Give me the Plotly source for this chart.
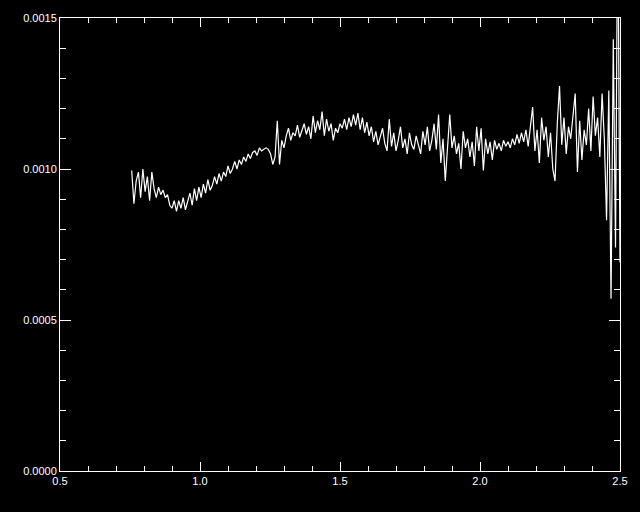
import plotly.graph_objects as go

wavelength = [
    0.756, 0.764, 0.772, 0.780, 0.788, 0.796, 0.804, 0.812, 0.820, 0.828,
    0.836, 0.844, 0.852, 0.860, 0.868, 0.876, 0.884, 0.892, 0.900, 0.908,
    0.916, 0.924, 0.932, 0.940, 0.948, 0.956, 0.964, 0.972, 0.980, 0.988,
    0.996, 1.004, 1.012, 1.020, 1.028, 1.036, 1.044, 1.052, 1.060, 1.068,
    1.076, 1.084, 1.092, 1.100, 1.108, 1.116, 1.124, 1.132, 1.140, 1.148,
    1.156, 1.164, 1.172, 1.180, 1.188, 1.196, 1.204, 1.212, 1.220, 1.228,
    1.236, 1.244, 1.252, 1.260, 1.268, 1.276, 1.284, 1.292, 1.300, 1.308,
    1.316, 1.324, 1.332, 1.340, 1.348, 1.356, 1.364, 1.372, 1.380, 1.388,
    1.396, 1.404, 1.412, 1.420, 1.428, 1.436, 1.444, 1.452, 1.460, 1.468,
    1.476, 1.484, 1.492, 1.500, 1.508, 1.516, 1.524, 1.532, 1.540, 1.548,
    1.556, 1.564, 1.572, 1.580, 1.588, 1.596, 1.604, 1.612, 1.620, 1.628,
    1.636, 1.644, 1.652, 1.660, 1.668, 1.676, 1.684, 1.692, 1.700, 1.708,
    1.716, 1.724, 1.732, 1.740, 1.748, 1.756, 1.764, 1.772, 1.780, 1.788,
    1.796, 1.804, 1.812, 1.820, 1.828, 1.836, 1.844, 1.852, 1.860, 1.868,
    1.876, 1.884, 1.892, 1.900, 1.908, 1.916, 1.924, 1.932, 1.940, 1.948,
    1.956, 1.964, 1.972, 1.980, 1.988, 1.996, 2.004, 2.012, 2.020, 2.028,
    2.036, 2.044, 2.052, 2.060, 2.068, 2.076, 2.084, 2.092, 2.100, 2.108,
    2.116, 2.124, 2.132, 2.140, 2.148, 2.156, 2.164, 2.172, 2.180, 2.188,
    2.196, 2.204, 2.212, 2.220, 2.228, 2.236, 2.244, 2.252, 2.260, 2.268,
    2.276, 2.284, 2.292, 2.300, 2.308, 2.316, 2.324, 2.332, 2.340, 2.348,
    2.356, 2.364, 2.372, 2.380, 2.388, 2.396, 2.404, 2.412, 2.420, 2.428,
    2.436, 2.444, 2.452, 2.460, 2.468, 2.476, 2.484, 2.492, 2.500,
]

flux = [
    0.000995, 0.000885, 0.000960, 0.000990, 0.000905, 0.001000, 0.000925, 0.000975, 0.000895, 0.000990,
    0.000935, 0.000905, 0.000940, 0.000915, 0.000930, 0.000905, 0.000915, 0.000880, 0.000870, 0.000895,
    0.000860, 0.000895, 0.000870, 0.000905, 0.000865, 0.000890, 0.000920, 0.000880, 0.000935, 0.000895,
    0.000940, 0.000905, 0.000950, 0.000920, 0.000965, 0.000930, 0.000945, 0.000975, 0.000950, 0.000985,
    0.000960, 0.000990, 0.000975, 0.001010, 0.000985, 0.001000, 0.001025, 0.001000, 0.001030, 0.001015,
    0.001040, 0.001025, 0.001050, 0.001035, 0.001055, 0.001060, 0.001045, 0.001070, 0.001060, 0.001065,
    0.001070, 0.001065, 0.001050, 0.001015, 0.001040, 0.001160, 0.001015, 0.001095, 0.001070, 0.001110,
    0.001135, 0.001095, 0.001120, 0.001110, 0.001145, 0.001105, 0.001125, 0.001150, 0.001115, 0.001140,
    0.001100, 0.001175, 0.001120, 0.001160, 0.001130, 0.001190, 0.001110, 0.001165, 0.001125, 0.001150,
    0.001095, 0.001135, 0.001120, 0.001150, 0.001135, 0.001165, 0.001130, 0.001170, 0.001140, 0.001180,
    0.001145, 0.001185, 0.001130, 0.001170, 0.001120, 0.001155, 0.001110, 0.001140, 0.001090, 0.001125,
    0.001080, 0.001105, 0.001135, 0.001085, 0.001060, 0.001165, 0.001075, 0.001120, 0.001060, 0.001095,
    0.001140, 0.001070, 0.001100, 0.001050, 0.001120, 0.001080, 0.001065, 0.001110, 0.001075, 0.001050,
    0.001125, 0.001080, 0.001140, 0.001060, 0.001095, 0.001150, 0.001065, 0.001180, 0.001020, 0.001100,
    0.000960, 0.001090, 0.001180, 0.001070, 0.001110, 0.001050, 0.001085, 0.001000, 0.001125, 0.001070,
    0.001100, 0.001040, 0.001090, 0.001010, 0.001140, 0.001060, 0.001135, 0.000995, 0.001100, 0.001050,
    0.001090, 0.001030, 0.001095, 0.001065, 0.001085, 0.001060, 0.001095, 0.001075, 0.001090, 0.001070,
    0.001100, 0.001080, 0.001115, 0.001085, 0.001120, 0.001090, 0.001130, 0.001075, 0.001150, 0.001205,
    0.001060, 0.001130, 0.001020, 0.001170, 0.001095, 0.001140, 0.001040, 0.001120, 0.001000, 0.000960,
    0.001150, 0.001275, 0.001080, 0.001170, 0.001050, 0.001140, 0.001100, 0.001190, 0.001250, 0.000990,
    0.001160, 0.001030, 0.001130, 0.001080, 0.001200, 0.001060, 0.001240, 0.001110, 0.001170, 0.001040,
    0.001250, 0.001100, 0.000830, 0.001260, 0.000570, 0.001430, 0.000740, 0.001900, 0.000690,
]

x_ticks = [0.5, 1.0, 1.5, 2.0, 2.5]
x_tick_labels = ["0.5", "1.0", "1.5", "2.0", "2.5"]
y_ticks = [0.0, 0.0005, 0.0010, 0.0015]
y_tick_labels = ["0.0000", "0.0005", "0.0010", "0.0015"]

fig = go.Figure()
fig.add_trace(go.Scatter(
    x=wavelength, y=flux, mode="lines",
    line=dict(color="white", width=1.2),
    showlegend=False, hoverinfo="skip",
))

font = dict(family="Liberation Sans, Arial, sans-serif", size=11, color="white")

fig.update_layout(
    width=640, height=512,
    paper_bgcolor="black", plot_bgcolor="black",
    margin=dict(l=60, r=18, t=18, b=41),
    font=font,
    xaxis=dict(
        range=[0.5, 2.5], showgrid=False, zeroline=False,
        showline=True, linecolor="white", linewidth=1, mirror="ticks",
        ticks="inside", ticklen=9, tickcolor="white", tickwidth=1,
        tickvals=x_ticks, ticktext=x_tick_labels, tickfont=font,
        minor=dict(ticks="inside", ticklen=5, dtick=0.1, tick0=0.5,
                   tickcolor="white", tickwidth=1, showgrid=False),
    ),
    yaxis=dict(
        range=[0.0, 0.0015], showgrid=False, zeroline=False,
        showline=True, linecolor="white", linewidth=1, mirror="ticks",
        ticks="inside", ticklen=11, tickcolor="white", tickwidth=1,
        tickvals=y_ticks, ticktext=y_tick_labels, tickfont=font,
        minor=dict(ticks="inside", ticklen=6, dtick=0.0001, tick0=0.0,
                   tickcolor="white", tickwidth=1, showgrid=False),
    ),
)

fig.write_html(
    "out.html",
    config={"displayModeBar": False},
    post_script="document.body.style.margin='0';document.body.style.background='black';",
)
